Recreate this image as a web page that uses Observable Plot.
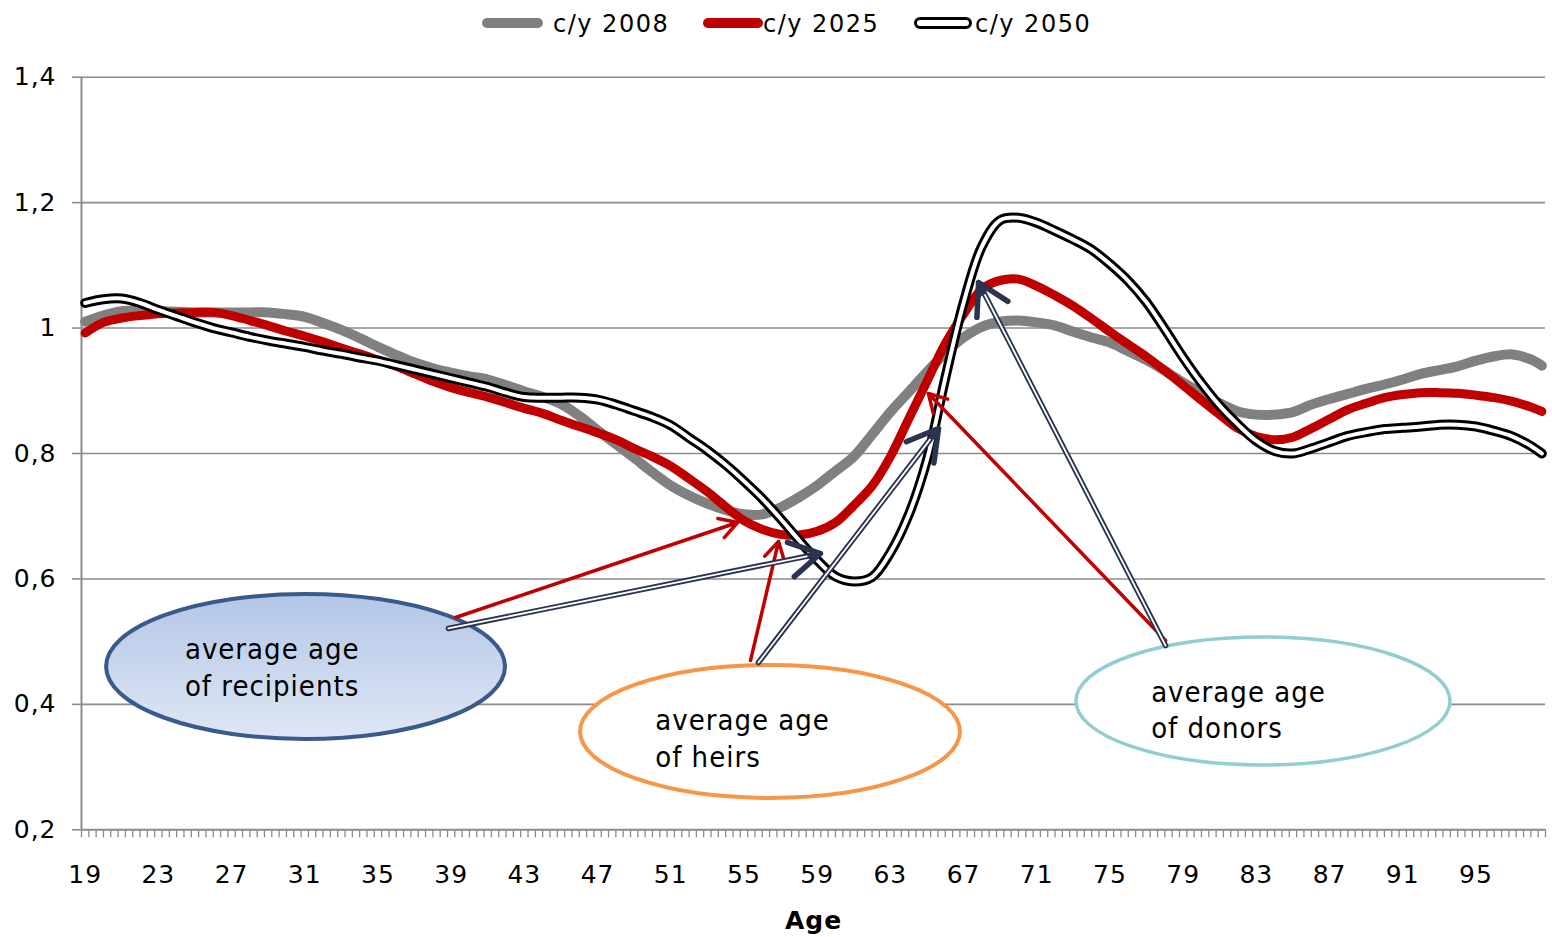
<!DOCTYPE html>
<html><head><meta charset="utf-8">
<script src="https://cdn.jsdelivr.net/npm/d3@7"></script>
<script src="https://cdn.jsdelivr.net/npm/@observablehq/plot@0.6"></script>
<style>
html,body{margin:0;padding:0;background:#fff;}
#wrap{width:1552px;height:937px;overflow:hidden;position:relative;background:#fff;}
#legend{position:relative;width:1552px;height:46px;font-family:"DejaVu Sans",sans-serif;font-size:24px;letter-spacing:1.5px;color:#000;}
.sw{position:absolute;top:18px;height:10px;border-radius:5px;box-sizing:border-box;}
.lt{position:absolute;top:9.5px;line-height:28px;white-space:nowrap;}
</style></head><body>
<div id="wrap">
<div id="legend"></div>
<div id="chart"></div>
</div>
<script>
// ---- data ----
const ages = [19,20,21,22,23,24,25,26,27,28,29,30,31,32,33,34,35,36,37,38,39,40,41,42,43,44,45,46,47,48,49,50,51,52,53,54,55,56,57,58,59,60,61,62,63,64,65,66,67,68,69,70,71,72,73,74,75,76,77,78,79,80,81,82,83,84,85,86,87,88,89,90,91,92,93,94,95,96,97,98,98.6];
const y2008 = [1.010,1.020,1.027,1.028,1.027,1.026,1.025,1.025,1.025,1.025,
  1.025,1.022,1.018,1.008,0.997,0.984,0.970,0.957,0.945,0.936,
  0.929,0.923,0.918,0.909,0.899,0.890,0.879,0.860,0.837,0.815,
  0.793,0.770,0.749,0.733,0.720,0.710,0.703,0.703,0.714,0.730,
  0.749,0.772,0.795,0.830,0.866,0.898,0.930,0.960,0.985,1.002,
  1.010,1.012,1.009,1.004,0.994,0.985,0.977,0.963,0.949,0.932,
  0.913,0.896,0.880,0.867,0.862,0.862,0.866,0.878,0.887,0.895,
  0.903,0.910,0.918,0.927,0.933,0.939,0.948,0.955,0.958,0.950,
  0.940];
const y2025 = [0.992,1.009,1.016,1.020,1.023,1.024,1.025,1.025,1.020,1.012,
  1.004,0.995,0.987,0.978,0.968,0.959,0.949,0.939,0.927,0.915,
  0.905,0.897,0.890,0.881,0.872,0.864,0.853,0.843,0.833,0.822,
  0.808,0.795,0.780,0.760,0.739,0.715,0.693,0.679,0.671,0.670,
  0.676,0.690,0.717,0.748,0.795,0.855,0.915,0.975,1.022,1.062,
  1.076,1.078,1.067,1.052,1.035,1.015,0.994,0.974,0.954,0.932,
  0.909,0.885,0.862,0.840,0.827,0.822,0.826,0.840,0.855,0.870,
  0.880,0.889,0.894,0.897,0.897,0.896,0.893,0.889,0.883,0.874,
  0.867];
const y2050 = [1.040,1.046,1.047,1.040,1.029,1.019,1.009,1.000,0.993,0.986,
  0.980,0.975,0.970,0.964,0.959,0.953,0.948,0.941,0.934,0.927,
  0.920,0.913,0.906,0.897,0.890,0.889,0.889,0.889,0.886,0.878,
  0.868,0.858,0.845,0.825,0.805,0.782,0.756,0.728,0.696,0.662,
  0.630,0.604,0.596,0.603,0.642,0.702,0.790,0.920,1.040,1.130,
  1.172,1.176,1.168,1.155,1.141,1.125,1.102,1.075,1.041,0.998,
  0.953,0.912,0.876,0.846,0.820,0.804,0.800,0.808,0.818,0.828,
  0.834,0.839,0.841,0.843,0.846,0.846,0.843,0.836,0.827,0.812,
  0.800];
const seriesNames = ["c/y 2008", "c/y 2025", "c/y 2050"];
const seriesColors = ["#808080", "#c00000", "#000000"];

const yTicks = [0.2, 0.4, 0.6, 0.8, 1.0, 1.2, 1.4];
const yTickLabels = ["0,2", "0,4", "0,6", "0,8", "1", "1,2", "1,4"];
const xTickLabels = [19, 23, 27, 31, 35, 39, 43, 47, 51, 55, 59, 63, 67, 71, 75, 79, 83, 87, 91, 95];
const xTitle = "Age";

// annotation bubbles (data coordinates)
const bubbleText = ["average age\nof recipients", "average age\nof heirs", "average age\nof donors"];
const bubbleAge = [31.07, 56.45, 83.39];
const bubbleValue = [0.4596, 0.356, 0.4046];
const bubbleHalfAge = [10.9, 10.38, 10.22];
const bubbleHalfValue = [0.1156, 0.106, 0.102];
const bubbleStroke = ["#3a5a8c", "#f79646", "#93cdd2"];
const bubbleFill = ["url(#recipGrad)", "#ffffff", "#ffffff"];
const textAge = [24.45, 50.15, 77.25];
const textValue = [0.4612, 0.348, 0.394];

// arrows (data coordinates)
const redFromAge = [39.24, 55.36, 78.04];
const redFromValue = [0.5385, 0.470, 0.5018];
const redToAge = [54.65, 56.89, 65.08];
const redToValue = [0.690, 0.6597, 0.8956];
const dblFromAge = [38.85, 55.79, 78.04];
const dblFromValue = [0.521, 0.4667, 0.4938];
const dblToAge = [59.18, 65.63, 67.82];
const dblToValue = [0.6405, 0.8398, 1.0726];

// ---- legend ----
const legend = document.getElementById("legend");
const swLeft = [482, 703, 914], swWidth = [61, 60, 58], txLeft = [553, 763, 975];
seriesNames.forEach((name, i) => {
  const sw = document.createElement("div");
  sw.className = "sw";
  sw.style.left = swLeft[i] + "px";
  sw.style.width = swWidth[i] + "px";
  if (i < 2) sw.style.background = seriesColors[i];
  else { sw.style.background = "#fff"; sw.style.border = "3.5px solid #000"; sw.style.top = "17px"; sw.style.height = "12px"; sw.style.borderRadius = "6px"; }
  legend.appendChild(sw);
  const t = document.createElement("div");
  t.className = "lt";
  t.style.left = txLeft[i] + "px";
  t.textContent = name;
  legend.appendChild(t);
});

// ---- chart ----
const rows = ages.map((a, i) => ({age: a, v2008: y2008[i], v2025: y2025[i], v2050: y2050[i]}));
const categoryEdges = d3.range(0, 201).map(k => Math.round((18.8 + 0.4 * k) * 10) / 10);
const redRows = redFromAge.map((d, i) => ({x1: d, y1: redFromValue[i], x2: redToAge[i], y2: redToValue[i]}));
const dblRows = dblFromAge.map((d, i) => ({x1: d, y1: dblFromValue[i], x2: dblToAge[i], y2: dblToValue[i]}));
const textRows = bubbleText.map((t, i) => ({t, x: textAge[i], y: textValue[i]}));
const grid = "#8c8c8c";
const lineOpts = {x: "age", curve: "catmull-rom", strokeLinecap: "round", strokeLinejoin: "round"};

const chart = Plot.plot({
  width: 1552, height: 891,
  marginLeft: 81, marginRight: 7, marginTop: 30.7, marginBottom: 107.7,
  x: {type: "linear", domain: [18.8, 98.8]},
  y: {domain: [0.2, 1.4]},
  style: {fontFamily: "DejaVu Sans, sans-serif", fontSize: "25px", color: "#000", background: "#fff", overflow: "visible", letterSpacing: "1px"},
  marks: [
    Plot.ruleY(yTicks.slice(1), {stroke: grid, strokeWidth: 1.6}),
    Plot.axisY({ticks: yTicks, tickSize: 9, tickPadding: 16, tickFormat: d => yTickLabels[yTicks.indexOf(d)], stroke: grid, strokeWidth: 1.6, fill: "#000", label: null, fontSize: 25}),
    Plot.axisX({ticks: categoryEdges, tickSize: 8, tickFormat: () => "", stroke: grid, strokeWidth: 1.3, label: null}),
    Plot.axisX({ticks: xTickLabels, tickSize: 0, tickPadding: 35, tickFormat: d => String(d), fill: "#000", label: null, fontSize: 25}),
    Plot.ruleX([18.8], {stroke: grid, strokeWidth: 2}),
    Plot.ruleY([0.2], {stroke: grid, strokeWidth: 2}),
    Plot.line(rows, {...lineOpts, y: "v2008", stroke: seriesColors[0], strokeWidth: 10}),
    Plot.line(rows, {...lineOpts, y: "v2025", stroke: seriesColors[1], strokeWidth: 9}),
    Plot.line(rows, {...lineOpts, y: "v2050", stroke: seriesColors[2], strokeWidth: 10}),
    Plot.line(rows, {...lineOpts, y: "v2050", stroke: "#ffffff", strokeWidth: 4}),
    Plot.arrow(redRows, {x1: "x1", y1: "y1", x2: "x2", y2: "y2", stroke: "#c00000", strokeWidth: 3.5, headLength: 8.6, headAngle: 60, strokeLinecap: "round", strokeLinejoin: "round"}),
    Plot.arrow(dblRows, {x1: "x1", y1: "y1", x2: "x2", y2: "y2", stroke: "#2a3450", strokeWidth: 5.5, headLength: 9.5, headAngle: 60, strokeLinecap: "round", strokeLinejoin: "round"}),
    Plot.arrow(dblRows, {x1: "x1", y1: "y1", x2: "x2", y2: "y2", stroke: "#ffffff", strokeWidth: 1.8, headLength: 0, insetEnd: 14}),
    Plot.text(textRows, {x: "x", y: "y", text: "t", textAnchor: "start", lineAnchor: "middle", lineHeight: 1.27, fontSize: 29, fontFamily: "'DejaVu Sans Condensed', 'DejaVu Sans', sans-serif", fill: "#000"}),
    Plot.text([xTitle], {frameAnchor: "bottom", dy: 99, fontWeight: "bold", fontSize: 25, fill: "#000"})
  ]
});
document.getElementById("chart").appendChild(chart);

// ---- annotation bubbles placed through the plot's scales ----
const sx = chart.scale("x"), sy = chart.scale("y");
const lin = s => v => s.range[0] + (v - s.domain[0]) / (s.domain[1] - s.domain[0]) * (s.range[1] - s.range[0]);
const X = typeof sx.apply === "function" ? v => sx.apply(v) : lin(sx);
const Y = typeof sy.apply === "function" ? v => sy.apply(v) : lin(sy);
const svg = d3.select(chart);
const defs = svg.insert("defs", ":first-child");
const grad = defs.append("linearGradient").attr("id", "recipGrad").attr("x1", 0).attr("y1", 0).attr("x2", 0).attr("y2", 1);
grad.append("stop").attr("offset", "0%").attr("stop-color", "#b3c6e7");
grad.append("stop").attr("offset", "100%").attr("stop-color", "#dfe7f5");
const firstArrow = chart.querySelector('g[aria-label="arrow"]');
const g = d3.select(chart.insertBefore(document.createElementNS("http://www.w3.org/2000/svg", "g"), firstArrow));
bubbleAge.forEach((a, i) => {
  const cx = X(a), cy = Y(bubbleValue[i]);
  const rx = Math.abs(X(a + bubbleHalfAge[i]) - cx), ry = Math.abs(Y(bubbleValue[i] + bubbleHalfValue[i]) - cy);
  g.append("ellipse").attr("cx", cx).attr("cy", cy).attr("rx", rx).attr("ry", ry)
    .attr("fill", bubbleFill[i]).attr("stroke", bubbleStroke[i]).attr("stroke-width", i === 2 ? 3.5 : 4);
});
</script>
</body></html>
